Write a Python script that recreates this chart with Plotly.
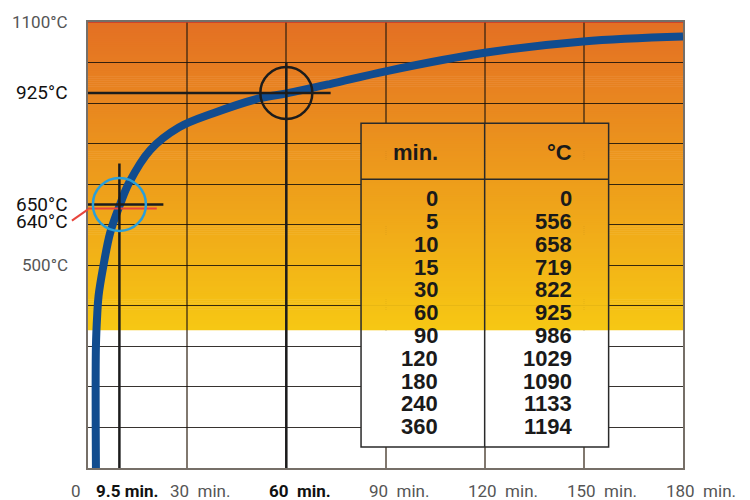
import plotly.graph_objects as go

# ---------------- data ----------------
table_min = [0, 5, 10, 15, 30, 60, 90, 120, 180, 240, 360]
table_temp = [0, 556, 658, 719, 822, 925, 986, 1029, 1090, 1133, 1194]

# fire curve (minutes, °C)
curve_t = [2.4, 2.4, 2.8, 3.2, 4.6, 6.7, 9.7, 12.4, 18.8, 27.5, 37.9, 52.0, 60.1, 73.2, 90.4, 120.0, 149.8, 180.0]
curve_T = [0, 300, 380, 425, 496, 580, 650, 703, 784, 840, 875, 912, 924, 947, 979, 1024, 1052, 1064]

x_tick_vals = [0, 9.5, 30, 60, 90, 120, 150, 180]
x_tick_text = ["0", "9.5 min.", "30  min.", "60  min.", "90  min.", "120  min.", "150  min.", "180  min."]
x_tick_strong = [False, True, False, True, False, False, False, False]

y_label_vals = [1100, 925, 650, 640, 500]
y_label_text = ["1100°C", "925°C", "650°C", "640°C", "500°C"]
y_label_strong = [False, True, True, True, False]

mark_time_a, mark_temp_a = 9.5, 650
mark_temp_red = 640
mark_time_b, mark_temp_b = 60, 925

# ---------------- style constants ----------------
GRAD_LOW = 340      # °C where the coloured background stops
TOP_RGB = (228, 112, 36)
BOT_RGB = (247, 200, 20)
BAND = 5

def grad_color(T):
    f = (T - GRAD_LOW) / (1100 - GRAD_LOW)
    f = max(0.0, min(1.0, f))
    r = BOT_RGB[0] + (TOP_RGB[0] - BOT_RGB[0]) * f
    g = BOT_RGB[1] + (TOP_RGB[1] - BOT_RGB[1]) * f
    b = BOT_RGB[2] + (TOP_RGB[2] - BOT_RGB[2]) * f
    return f"rgb({int(r)},{int(g)},{int(b)})"

shapes = []

def gradient_rect(x0, x1, y0, y1, layer):
    # white part below the gradient
    if y0 < GRAD_LOW:
        shapes.append(dict(type="rect", xref="x", yref="y", x0=x0, x1=x1, y0=y0, y1=min(y1, GRAD_LOW),
                           fillcolor="white", line_width=0, layer=layer))
    T = max(y0, GRAD_LOW)
    while T < y1:
        t1 = min(T + BAND, y1)
        shapes.append(dict(type="rect", xref="x", yref="y", x0=x0, x1=x1, y0=T,
                           y1=min(t1 + 1.5, y1), fillcolor=grad_color((T + t1) / 2),
                           line_width=0, layer=layer))
        T = t1

# background gradient (below grid)
gradient_rect(0, 180, 0, 1100, "below")

# table box (covers grid)
TB_X0, TB_X1, TB_XDIV = 82.6, 157.5, 120.0
TB_Y0, TB_Y1, TB_YHEAD = 51.8, 850, 712
gradient_rect(TB_X0, TB_X1, TB_Y0, TB_Y1, "above")
tb_line = dict(color="#2a2a2a", width=1.5)
shapes.append(dict(type="rect", xref="x", yref="y", x0=TB_X0, x1=TB_X1, y0=TB_Y0, y1=TB_Y1,
                   line=tb_line, fillcolor="rgba(0,0,0,0)", layer="above"))
shapes.append(dict(type="line", xref="x", yref="y", x0=TB_X0, x1=TB_X1, y0=TB_YHEAD, y1=TB_YHEAD, line=tb_line))
shapes.append(dict(type="line", xref="x", yref="y", x0=TB_XDIV, x1=TB_XDIV, y0=TB_Y0, y1=TB_Y1, line=tb_line))

# top red border
shapes.append(dict(type="line", xref="x", yref="y", x0=0, x1=180, y0=1100, y1=1100,
                   line=dict(color="#C8372D", width=1.5)))

BLK = "#1c1c1c"
# crosshair 60 min / 925 °C
shapes.append(dict(type="line", xref="x", yref="y", x0=0, x1=73.4, y0=mark_temp_b, y1=mark_temp_b,
                   line=dict(color=BLK, width=2.5)))
shapes.append(dict(type="line", xref="x", yref="y", x0=mark_time_b, x1=mark_time_b, y0=0, y1=1000,
                   line=dict(color=BLK, width=2.5)))
shapes.append(dict(type="circle", xref="x", yref="y", xsizemode="pixel", ysizemode="pixel",
                   xanchor=mark_time_b, yanchor=mark_temp_b, x0=-26, x1=26, y0=-26, y1=26,
                   line=dict(color=BLK, width=2.5)))
# crosshair 9.5 min / 650 °C
shapes.append(dict(type="line", xref="x", yref="y", x0=0, x1=22.8, y0=mark_temp_a, y1=mark_temp_a,
                   line=dict(color=BLK, width=2.5)))
shapes.append(dict(type="line", xref="x", yref="y", x0=0, x1=20.8, y0=mark_temp_red, y1=mark_temp_red,
                   line=dict(color="#E8453C", width=2)))
shapes.append(dict(type="line", xref="x", yref="y", x0=mark_time_a, x1=mark_time_a, y0=0, y1=751,
                   line=dict(color=BLK, width=2.5)))
shapes.append(dict(type="circle", xref="x", yref="y", xsizemode="pixel", ysizemode="pixel",
                   xanchor=mark_time_a, yanchor=mark_temp_a, x0=-26.5, x1=26.5, y0=-26.5, y1=26.5,
                   line=dict(color="#2A9FD9", width=2.5)))
# red connector from label
shapes.append(dict(type="line", xref="paper", yref="y", x0=-0.027, x1=0.0, y0=610, y1=638,
                   line=dict(color="#E8453C", width=2)))

# ---------------- annotations ----------------
annotations = []
GRAY = "#555555"
FONT = "Roboto, 'Open Sans', sans-serif"
for v, txt, strong in zip(x_tick_vals, x_tick_text, x_tick_strong):
    annotations.append(dict(
        x=v, xref="x", y=0, yref="paper", xanchor="left", yanchor="middle",
        xshift=(-25 if v == 9.5 else -19), yshift=-23, showarrow=False,
        text=(f"<b>{txt}</b>" if strong else txt),
        font=dict(family=FONT, size=17, color=("#111111" if strong else GRAY))))

for v, txt, strong in zip(y_label_vals, y_label_text, y_label_strong):
    annotations.append(dict(
        x=0, xref="paper", y=v, yref="y", xanchor="right", yanchor="middle",
        xshift=-18, yshift=(-13 if v == 640 else 0), showarrow=False, text=txt,
        font=dict(family=FONT, size=(19 if strong else 17), color=("#111111" if strong else GRAY))))

TFONT = dict(family="'Liberation Sans', Arial, sans-serif", size=22, color="#1a1a1a")
COL1_X, COL2_X = 106.0, 146.4
HEAD_T, ROW0_T, ROW_STEP = 778, 664, 56.2
annotations.append(dict(x=COL1_X, xref="x", y=HEAD_T, yref="y", xanchor="right", yanchor="middle",
                        xshift=2, showarrow=False, text="<b>min.</b>", font=TFONT))
annotations.append(dict(x=COL2_X, xref="x", y=HEAD_T, yref="y", xanchor="right", yanchor="middle",
                        xshift=2, showarrow=False, text="<b>°C</b>", font=TFONT))
for i, (m, c) in enumerate(zip(table_min, table_temp)):
    yv = ROW0_T - i * ROW_STEP
    annotations.append(dict(x=COL1_X, xref="x", y=yv, yref="y", xanchor="right", yanchor="middle",
                            xshift=2, showarrow=False, text=f"<b>{m}</b>", font=TFONT))
    annotations.append(dict(x=COL2_X, xref="x", y=yv, yref="y", xanchor="right", yanchor="middle",
                            xshift=2, showarrow=False, text=f"<b>{c}</b>", font=TFONT))

# ---------------- figure ----------------
fig = go.Figure()
fig.add_trace(go.Scatter(
    x=curve_t, y=curve_T, mode="lines",
    line=dict(color="#114C8F", width=8, shape="spline", smoothing=1.0),
    hoverinfo="skip", showlegend=False))

# the page body adds an 8px offset, so the figure is slightly smaller
fig.update_layout(
    width=742, height=492,
    margin=dict(l=80, r=67, t=14, b=32),
    paper_bgcolor="white", plot_bgcolor="white",
    shapes=shapes, annotations=annotations,
    showlegend=False,
    xaxis=dict(range=[0, 180], dtick=30, tick0=0, showticklabels=False, ticks="",
               showgrid=True, gridcolor="rgba(45,30,15,0.6)", gridwidth=1.5,
               zeroline=False, showline=True, linecolor="rgba(60,50,40,0.7)", linewidth=1.5, mirror=True,
               fixedrange=True),
    yaxis=dict(range=[0, 1100], dtick=100, tick0=0, showticklabels=False, ticks="",
               showgrid=True, gridcolor="rgba(20,15,10,0.85)", gridwidth=1.2,
               zeroline=False, showline=True, linecolor="rgba(60,50,40,0.7)", linewidth=1.5, mirror=True,
               fixedrange=True),
)

fig.write_html("out.html")
